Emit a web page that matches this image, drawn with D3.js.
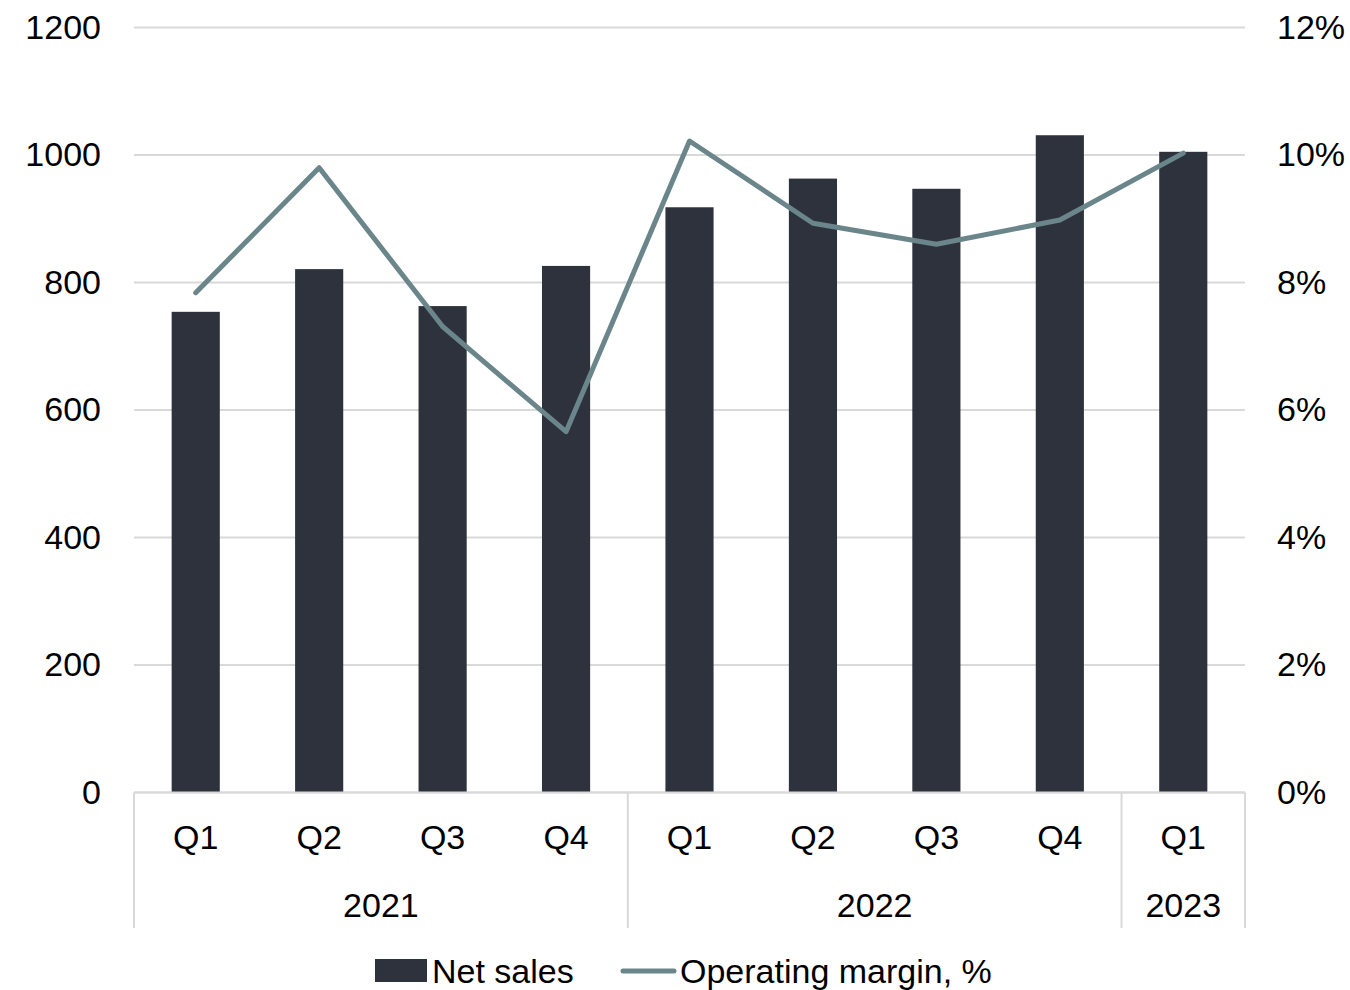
<!DOCTYPE html>
<html>
<head>
<meta charset="utf-8">
<script src="https://cdn.jsdelivr.net/npm/d3@7"></script>
<style>
  html, body { margin: 0; padding: 0; background: #ffffff; }
  svg { display: block; }
  text { font-family: "Liberation Sans", Arial, Helvetica, sans-serif; fill: #000; }
</style>
</head>
<body>
<svg id="chart" width="1350" height="990"></svg>
<script>
// Quarterly net sales (left axis) and operating margin in % (right axis)
const quarters = ["Q1", "Q2", "Q3", "Q4", "Q1", "Q2", "Q3", "Q4", "Q1"];
const years = ["2021", "2021", "2021", "2021", "2022", "2022", "2022", "2022", "2023"];
const netSales = [754, 821, 763, 826, 918, 963, 947, 1031, 1005];
const operatingMargin = [7.84, 9.80, 7.31, 5.66, 10.22, 8.93, 8.60, 8.98, 10.03];
const leftTicks = [0, 200, 400, 600, 800, 1000, 1200];
const rightTicks = [0, 2, 4, 6, 8, 10, 12];
const seriesNames = ["Net sales", "Operating margin, %"];

const barColor = "#2e323c";
const lineColor = "#6b868a";
const gridColor = "#d9d9d9";

const svg = d3.select("#chart");
const plot = { left: 134, right: 1245, top: 27.5, bottom: 792.5 };

const idx = d3.range(quarters.length);
const x = d3.scaleBand()
  .domain(idx)
  .range([plot.left, plot.right])
  .paddingInner(0.61)
  .paddingOuter(0.305);

const yLeft = d3.scaleLinear().domain([0, 1200]).range([plot.bottom, plot.top]);
const yRight = d3.scaleLinear().domain([0, 12]).range([plot.bottom, plot.top]);

// Horizontal gridlines
svg.append("g")
  .selectAll("line")
  .data(leftTicks)
  .join("line")
  .attr("x1", plot.left)
  .attr("x2", plot.right)
  .attr("y1", d => yLeft(d))
  .attr("y2", d => yLeft(d))
  .attr("stroke", gridColor)
  .attr("stroke-width", 2);

// Left axis labels
const leftAxis = d3.axisLeft(yLeft).tickValues(leftTicks).tickSize(0).tickPadding(0)
  .tickFormat(d3.format("d"));
svg.append("g")
  .attr("transform", "translate(101,0)")
  .call(leftAxis)
  .call(g => g.select(".domain").remove())
  .selectAll("text")
  .attr("font-size", 34)
  .attr("fill", "#000")
  .style("font-family", "'Liberation Sans', Arial, sans-serif");

// Right axis labels
const rightAxis = d3.axisRight(yRight).tickValues(rightTicks).tickSize(0).tickPadding(0)
  .tickFormat(d => d + "%");
svg.append("g")
  .attr("transform", "translate(1277,0)")
  .call(rightAxis)
  .call(g => g.select(".domain").remove())
  .selectAll("text")
  .attr("font-size", 34)
  .attr("fill", "#000")
  .style("font-family", "'Liberation Sans', Arial, sans-serif");

// Bars
svg.append("g")
  .selectAll("rect")
  .data(idx)
  .join("rect")
  .attr("x", i => x(i))
  .attr("width", x.bandwidth())
  .attr("y", i => yLeft(netSales[i]))
  .attr("height", i => yLeft(0) - yLeft(netSales[i]))
  .attr("fill", barColor);

// Category axis: quarter labels and year groups
const step = x.step();
const groupEdges = [plot.left];
years.forEach((yv, i) => {
  if (i > 0 && yv !== years[i - 1]) groupEdges.push(plot.left + i * step);
});
groupEdges.push(plot.right);

svg.append("line")
  .attr("x1", plot.left).attr("x2", plot.right)
  .attr("y1", plot.bottom).attr("y2", plot.bottom)
  .attr("stroke", gridColor).attr("stroke-width", 2);

svg.append("g")
  .selectAll("line")
  .data(groupEdges)
  .join("line")
  .attr("x1", d => d).attr("x2", d => d)
  .attr("y1", plot.bottom).attr("y2", 928)
  .attr("stroke", gridColor).attr("stroke-width", 2);

svg.append("g")
  .selectAll("text")
  .data(idx)
  .join("text")
  .attr("x", i => x(i) + x.bandwidth() / 2)
  .attr("y", 837)
  .attr("dy", "0.35em")
  .attr("text-anchor", "middle")
  .attr("font-size", 34)
  .text(i => quarters[i]);

const yearGroups = Array.from(d3.group(idx, i => years[i]), ([k, v]) => ({ year: k, first: v[0], last: v[v.length - 1] }));
svg.append("g")
  .selectAll("text")
  .data(yearGroups)
  .join("text")
  .attr("x", d => (plot.left + d.first * step + plot.left + (d.last + 1) * step) / 2)
  .attr("y", 905)
  .attr("dy", "0.35em")
  .attr("text-anchor", "middle")
  .attr("font-size", 34)
  .text(d => d.year);

// Operating margin line
const line = d3.line()
  .x(i => x(i) + x.bandwidth() / 2)
  .y(i => yRight(operatingMargin[i]));

svg.append("path")
  .datum(idx)
  .attr("d", line)
  .attr("fill", "none")
  .attr("stroke", lineColor)
  .attr("stroke-width", 5)
  .attr("stroke-linecap", "round")
  .attr("stroke-linejoin", "round");

// Legend
const legend = svg.append("g");
legend.append("rect")
  .attr("x", 375).attr("y", 959).attr("width", 52).attr("height", 23)
  .attr("fill", barColor);
legend.append("text")
  .attr("x", 432).attr("y", 971).attr("dy", "0.35em")
  .attr("font-size", 34)
  .text(seriesNames[0]);
legend.append("line")
  .attr("x1", 623).attr("x2", 674).attr("y1", 971).attr("y2", 971)
  .attr("stroke", lineColor).attr("stroke-width", 5).attr("stroke-linecap", "round");
legend.append("text")
  .attr("x", 680).attr("y", 971).attr("dy", "0.35em")
  .attr("font-size", 34)
  .text(seriesNames[1]);
</script>
</body>
</html>
